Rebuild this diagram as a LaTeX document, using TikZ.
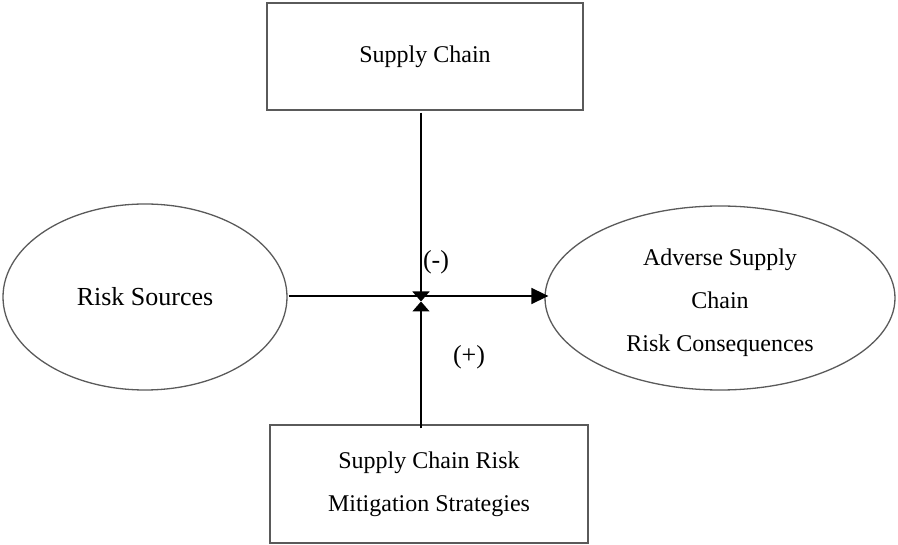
\documentclass[tikz,border=0pt]{standalone}
\usepackage{fontspec}
\setmainfont{Liberation Serif}
\usetikzlibrary{shapes.geometric,arrows.meta,calc}
\definecolor{shapegray}{RGB}{90,90,90}
\tikzset{
  box/.style={draw=shapegray, line width=1.3pt, rectangle, inner sep=0pt, align=center,
    font=\fontsize{24}{43}\selectfont},
  oval/.style={draw=shapegray, line width=1.3pt, ellipse, inner sep=0pt, align=center,
    font=\fontsize{24}{43}\selectfont},
  link/.style={draw=black, line width=1.6pt},
  bigtip/.style={-{Triangle[length=17pt,width=16pt]}},
  smalltip/.style={-{Triangle[length=10pt,width=17pt]}},
  sign/.style={font=\fontsize{26}{30}\selectfont, inner sep=0pt}
}
\begin{document}
\begin{tikzpicture}[x=1pt,y=-1pt]
\useasboundingbox (0,0) rectangle (898,545);
\node[box, minimum width=316pt, minimum height=107pt] (sc) at (425,56.5) {Supply Chain};
\node[box, minimum width=318pt, minimum height=118pt] (scrm) at (429,484) {Supply Chain Risk\\Mitigation Strategies};
\node[oval, minimum width=284pt, minimum height=186pt, font=\fontsize{26}{30}\selectfont] (rs) at (145,297) {Risk Sources};
\node[oval, minimum width=350pt, minimum height=184pt] (asc) at (720,298)
  {\raisebox{-1.5pt}[\height][\depth]{\begin{tabular}{@{}c@{}}Adverse Supply\\Chain\\Risk Consequences\end{tabular}}};
\coordinate (J) at (421,301.5);
\node[sign] (minus) at (436,262) {(-)};
\node[sign] (plus) at (469,357) {(+)};
\draw[link, bigtip] ($(rs.east)+(1,-1)$) -- ($(asc.west)+(4,-2)$);
\draw[link, smalltip] (J |- sc.south) ++(0,2) -- (J);
\draw[link, smalltip] (J |- scrm.north) ++(0,4) -- (J);
\end{tikzpicture}
\end{document}
